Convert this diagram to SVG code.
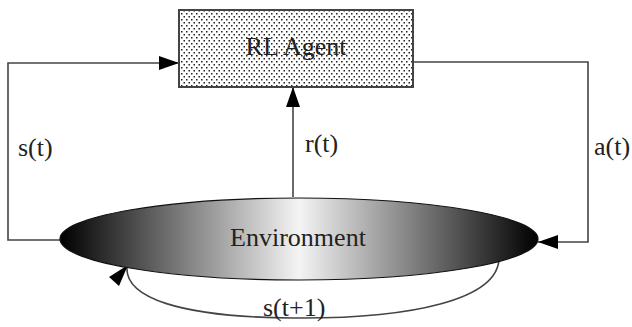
<svg xmlns="http://www.w3.org/2000/svg" width="632" height="327" viewBox="0 0 632 327">
<style>
.lbl{font-family:"Liberation Serif","Times New Roman",serif;font-size:26px;fill:#222}
.conn{fill:none;stroke:#444;stroke-width:1.6}
</style>
<defs>
<pattern id="dots" patternUnits="userSpaceOnUse" width="5" height="6">
<rect width="5" height="6" fill="#fff"/>
<rect x="1" y="1" width="1.5" height="1.5" fill="#222"/>
<rect x="3.5" y="4" width="1.5" height="1.5" fill="#222"/>
</pattern>
<linearGradient id="env" x1="0" y1="0" x2="1" y2="0">
<stop offset="0" stop-color="#000"/>
<stop offset="0.5" stop-color="#f4f4f4"/>
<stop offset="1" stop-color="#000"/>
</linearGradient>
<marker id="arr" markerUnits="userSpaceOnUse" markerWidth="22" markerHeight="16" refX="20" refY="7" orient="auto">
<path d="M0,0 L20,7 L0,14 Z" fill="#000"/>
</marker>
</defs>
<g id="connectors">
<path class="conn" d="M60,240 H8 V63 H179" marker-end="url(#arr)"/>
<path class="conn" d="M413,62 H588 V242 H538" marker-end="url(#arr)"/>
<path class="conn" d="M293,197 V87" marker-end="url(#arr)"/>
<path class="conn" d="M499,257 C500,300 410,319 293,318 C180,317 124,298 127,266"/>
<path d="M128,265 L109,277 L119,286 Z" fill="#000"/>
<text class="lbl" x="18" y="156">s(t)</text>
<text class="lbl" x="305" y="152">r(t)</text>
<text class="lbl" x="594" y="155">a(t)</text>
<text class="lbl" x="263" y="316">s(t+1)</text>
</g>
<g id="agent">
<rect x="179" y="10" width="234" height="77" fill="url(#dots)" stroke="#444" stroke-width="2"/>
<text class="lbl" x="296" y="55" text-anchor="middle">RL Agent</text>
</g>
<g id="environment">
<ellipse cx="299" cy="239" rx="239" ry="41" fill="url(#env)" stroke="#111" stroke-width="1.2"/>
<text class="lbl" x="298" y="246" text-anchor="middle">Environment</text>
</g>
</svg>
